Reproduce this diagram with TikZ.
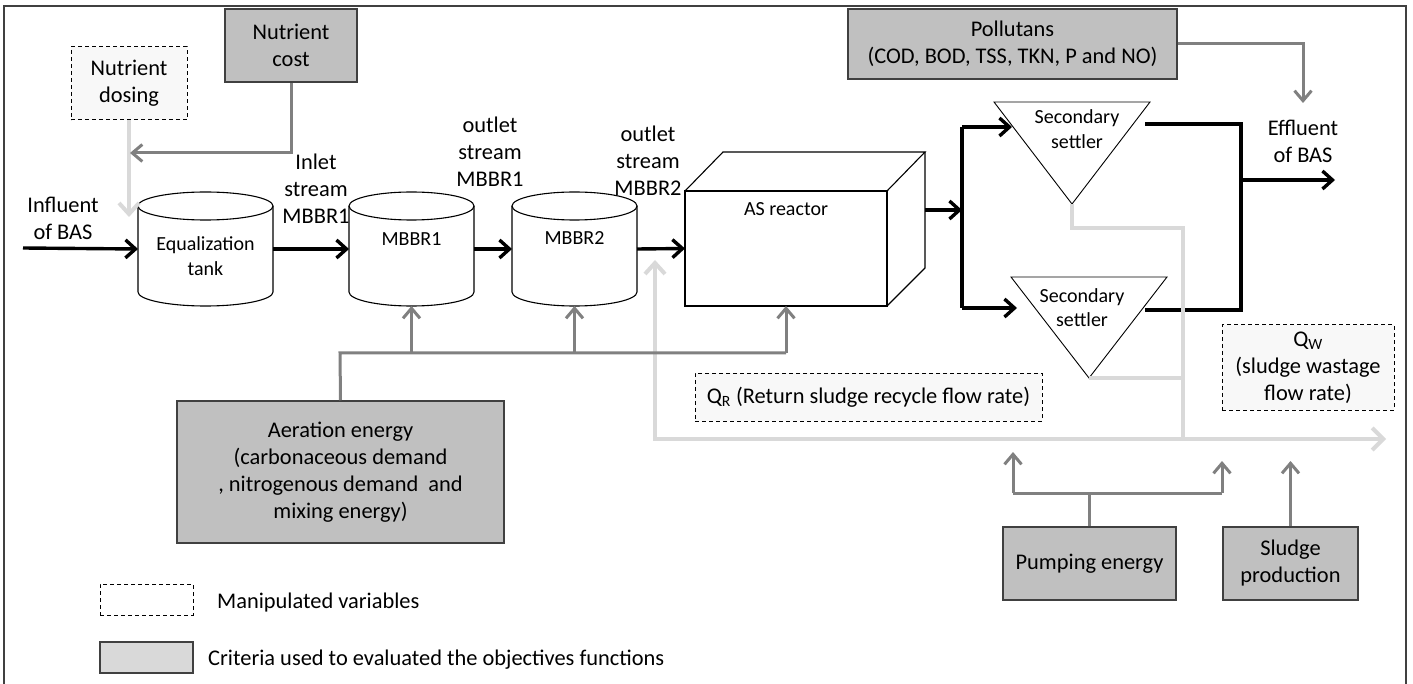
\documentclass[tikz,border=0pt]{standalone}
\usepackage{fontspec}
\setmainfont{Carlito}
\usetikzlibrary{arrows.meta}
\definecolor{boxgray}{HTML}{C0C0C0}
\definecolor{edgegray}{HTML}{404040}
\definecolor{arrgray}{HTML}{808080}
\definecolor{lightline}{HTML}{D9D9D9}
\definecolor{dashfill}{HTML}{F8F8F8}
\definecolor{legfill}{HTML}{D9D9D9}
\begin{document}
\begin{tikzpicture}[x=1pt,y=-1pt,
  every node/.style={font=\fontsize{22.4}{27}\selectfont},
  small/.style={font=\fontsize{20}{24.5}\selectfont},
  txt/.style={align=center, inner sep=0},
  crit/.style={draw=edgegray, line width=1.5pt, fill=boxgray, align=center, inner sep=0},
  manip/.style={draw=black, dash pattern=on 4pt off 3pt, line width=1pt, fill=dashfill, align=center, inner sep=0},
  shapeline/.style={draw=black, line width=1.1pt},
  holder/.style={inner sep=0, outer sep=0},
  flow/.style={line width=3.4pt, -{Straight Barb[length=10pt,width=18pt,line width=3.4pt]}},
  flowline/.style={line width=3.4pt},
  gflow/.style={draw=arrgray, line width=3pt, -{Straight Barb[length=10pt,width=17pt,line width=3pt]}},
  gline/.style={draw=arrgray, line width=3pt},
  lflow/.style={draw=lightline, line width=4pt, -{Straight Barb[length=11pt,width=20pt,line width=4pt]}},
  lline/.style={draw=lightline, line width=4pt}
]
\useasboundingbox (0,0) rectangle (1413,684);
\fill[white] (0,0) rectangle (1413,684);
% frame
\draw[edgegray, line width=1.5pt] (4,684) -- (4,6) -- (1406,6) -- (1406,684);

% ---------- top boxes ----------
\node[manip, minimum width=116pt, minimum height=73pt] (dosing) at (129,83.5) {Nutrient\\dosing};
\node[crit, minimum width=132pt, minimum height=73pt] (cost) at (291,45.5) {Nutrient\\cost};
\node[crit, minimum width=329pt, minimum height=70pt] (poll) at (1012.5,44) {Pollutans\\(COD, BOD, TSS, TKN, P and NO)};

% ---------- cylinders ----------
\node[holder, minimum width=135pt, minimum height=114pt] (eq) at (205.5,249) {};
\draw[shapeline, fill=white] (138,206) -- (138,292) arc[start angle=180, end angle=360, x radius=67.5pt, y radius=14pt] -- (273,206);
\draw[shapeline] (205.5,206) ellipse [x radius=67.5pt, y radius=14pt];
\node[txt, small] (eqlab) at (205.5,256) {Equalization\\tank};

\node[holder, minimum width=125pt, minimum height=114pt] (m1) at (411.5,249) {};
\draw[shapeline, fill=white] (349,206) -- (349,292) arc[start angle=180, end angle=360, x radius=62.5pt, y radius=14pt] -- (474,206);
\draw[shapeline] (411.5,206) ellipse [x radius=62.5pt, y radius=14pt];
\node[txt, small] (m1lab) at (411.5,239) {MBBR1};

\node[holder, minimum width=125pt, minimum height=114pt] (m2) at (574.5,249) {};
\draw[shapeline, fill=white] (512,206) -- (512,292) arc[start angle=180, end angle=360, x radius=62.5pt, y radius=14pt] -- (637,206);
\draw[shapeline] (574.5,206) ellipse [x radius=62.5pt, y radius=14pt];
\node[txt, small] (m2lab) at (574.5,238) {MBBR2};

% ---------- AS reactor ----------
\node[shapeline, holder, minimum width=202pt, minimum height=115pt, fill=white] (as) at (786,248.5) {};
\draw[shapeline] (as.north west) -- ++(38,-39) -- ++(202,0) -- (as.north east);
\draw[shapeline] (as.south east) -- ++(38,-38) -- ++(0,-116);
\node[txt, small] (aslab) at (786,209) {AS reactor};

% ---------- settlers ----------
\node[holder, minimum width=156pt, minimum height=102pt] (s1) at (1072,153) {};
\draw[shapeline, line width=0.9pt] (s1.north west) -- (s1.north east) -- (s1.south) -- cycle;
\node[txt, small] (s1lab) at (1077,129) {Secondary\\settler};
\node[holder, minimum width=156pt, minimum height=101pt] (s2) at (1089,327.5) {};
\draw[shapeline, line width=0.9pt] (s2.north west) -- (s2.north east) -- (s2.south) -- cycle;
\node[txt, small] (s2lab) at (1082,307.5) {Secondary\\settler};

% ---------- stream labels ----------
\node[txt] (inflab) at (63,218) {Influent\\of BAS};
\node[txt] (inletlab) at (316,189) {Inlet\\stream\\MBBR1};
\node[txt] (out1lab) at (490,152) {outlet\\stream\\MBBR1};
\node[txt] (out2lab) at (648,161) {outlet\\stream\\MBBR2};
\node[txt] (efflab) at (1303,141) {Effluent\\of BAS};

% ---------- other boxes ----------
\node[manip, minimum width=347pt, minimum height=48pt] (qr) at (868.5,397) {Q\textsubscript{R} (Return sludge recycle flow rate)};
\node[manip, minimum width=172pt, minimum height=85pt] (qw) at (1308,367.5) {Q\textsubscript{W}\\(sludge wastage\\flow rate)};
\node[crit, minimum width=327pt, minimum height=142pt] (aer) at (340.5,472) {Aeration energy\\(carbonaceous demand\\, nitrogenous demand\ \ and\\mixing energy)};
\node[crit, minimum width=173pt, minimum height=73pt] (pump) at (1089.5,563.5) {Pumping energy};
\node[crit, minimum width=135pt, minimum height=73pt] (sludge) at (1290.5,563.5) {Sludge\\production};

% ---------- legend ----------
\node[manip, fill=white, minimum width=93pt, minimum height=31pt] (legm) at (146.5,599.5) {};
\node[txt, anchor=west] (legmtxt) at (217,603) {Manipulated variables};
\node[draw=edgegray, line width=1.5pt, fill=legfill, minimum width=93pt, minimum height=31pt, inner sep=0] (legc) at (146.5,657.5) {};
\node[txt, anchor=west] (legctxt) at (208,660) {Criteria used to evaluated the objectives functions};

% ---------- coordinates ----------
\coordinate (inflstart) at (23,248);
\coordinate (asback) at (925,210);
\coordinate (split) at (962,210);
\coordinate (btop) at (962,127);
\coordinate (bbot) at (962,308);
\coordinate (s1in) at (1012,127);
\coordinate (s2in) at (1017,308);
\coordinate (s1out) at (1145,124);
\coordinate (s2out) at (1145,310);
\coordinate (join) at (1241,180);
\coordinate (effend) at (1335,180);
\coordinate (dosetip) at (129,217);
\coordinate (costtip) at (130,153);
\coordinate (polltip) at (1303,103);
\coordinate (rtip) at (655,260);
\coordinate (rcorner) at (655,439);
\coordinate (wtip) at (1386,439);
\coordinate (aerbus) at (340,353);

% ---------- black process flow ----------
\draw[flow] (inflstart) -- (eq.west);
\draw[flow] (eq.east) -- (m1.west);
\draw[flow] (m1.east) -- (m2.west);
\draw[flow] (m2.east) -- (as.west);
\draw[flow] (asback) -- (split);
\draw[flowline] (btop) -- (bbot);
\draw[flow] (btop) -- (s1in);
\draw[flow] (bbot) -- (s2in);
\draw[flowline] (s1out) -- (1241,124) -- (1241,310) -- (s2out);
\draw[flow] (join) -- (effend);

% ---------- light gray sludge lines ----------
\draw[lline] (s1.south) -- (1072,228) -- (1183,228) -- (1183,439);
\draw[lline] (s2.south) -- (1183,378);
\draw[lflow, {Straight Barb[length=11pt,width=20pt,line width=4pt]}-{Straight Barb[length=11pt,width=22pt,line width=4pt]}] (rtip) -- (rcorner) -- (wtip);
\draw[lflow] (dosing.south) -- (dosetip);

% ---------- gray criteria arrows ----------
\draw[gflow] (cost.south) -- (291,153) -- (costtip);
\draw[gflow] (poll.east) -- (1303,44) -- (polltip);
\draw[gline] (aer.north) -- (aerbus) -- (786,353);
\draw[gflow] (411.5,353) -- (m1.south);
\draw[gflow] (574.5,353) -- (m2.south);
\draw[gflow] (786,353) -- (as.south);
\draw[gline] (pump.north) -- (1089.5,493);
\draw[gline] (1013,493) -- (1222,493);
\draw[gflow] (1013,493) -- (1013,452);
\draw[gflow] (1222,493) -- (1222,461);
\draw[gflow] (sludge.north) -- (1290.5,461);
\end{tikzpicture}
\end{document}
